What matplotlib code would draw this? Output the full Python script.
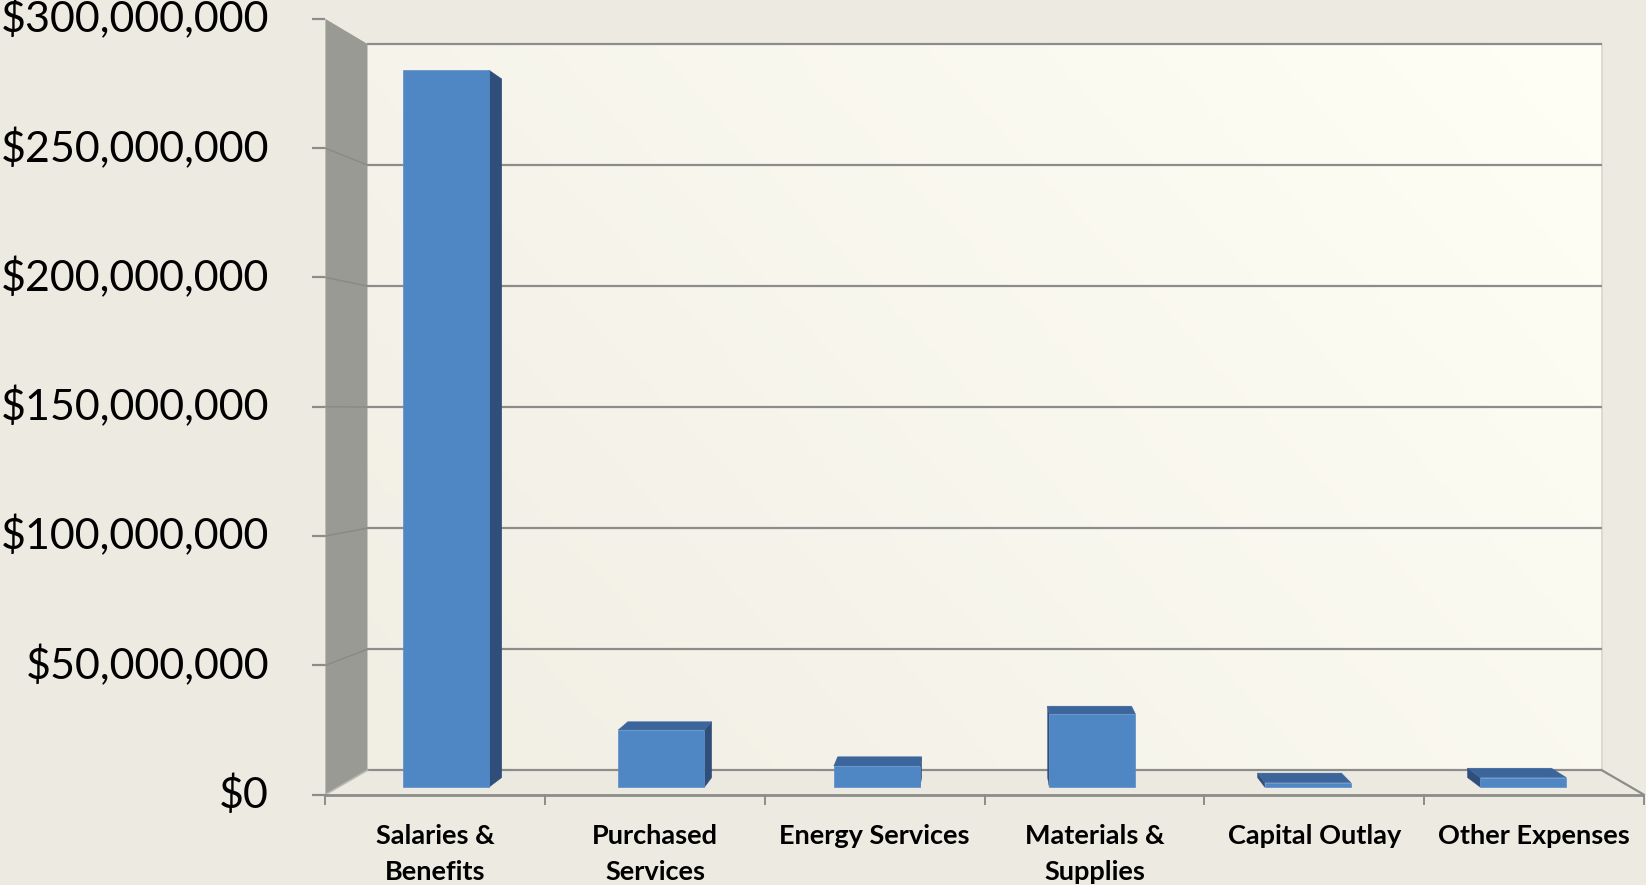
import matplotlib
matplotlib.use("Agg")
import matplotlib.pyplot as plt
from matplotlib.patches import Polygon
from matplotlib.colors import LinearSegmentedColormap
import numpy as np

# ---------------- data ----------------
categories = ["Salaries &\nBenefits", "Purchased\nServices", "Energy Services",
              "Materials &\nSupplies", "Capital Outlay", "Other Expenses"]
values = [282.8e6, 22.6e6, 8.4e6, 28.9e6, 1.8e6, 3.8e6]
y_ticks = [0, 50e6, 100e6, 150e6, 200e6, 250e6, 300e6]
y_tick_labels = ["$0", "$50,000,000", "$100,000,000", "$150,000,000",
                 "$200,000,000", "$250,000,000", "$300,000,000"]

# ---------------- style / geometry ----------------
BG = "#EDEBE1"
GRID = "#8C8C8A"
FRONT = "#4F86C4"
SIDE = "#2F4E7A"
TOP = "#3B659B"
WALL = "#9A9A94"

n = len(categories)
ymax = y_ticks[-1]
VPX, VPY = n / 2.0, 148e6      # vanishing point (front-plane data coords)
T_WALL = 0.0638                # depth fraction of back wall
T1, T2 = 0.0192, 0.0446        # bar front/back depth fractions
BAR_W = 0.40


def proj(x, v, t):
    return (x + (VPX - x) * t, v + (VPY - v) * t)


fig = plt.figure(figsize=(16.46, 8.85), dpi=100)
fig.patch.set_facecolor(BG)
ax = fig.add_axes([0, 0, 1, 1])
ax.set_facecolor(BG)
ax.axis("off")

# back wall with gradient
bw = [proj(0, 0, T_WALL), proj(n, 0, T_WALL), proj(n, ymax, T_WALL), proj(0, ymax, T_WALL)]
wall_patch = Polygon(bw, closed=True, facecolor="none", edgecolor="none", zorder=1)
ax.add_patch(wall_patch)
g = np.linspace(0, 1, 256)
GX, GY = np.meshgrid(g, g)
G = 0.65 * GX + 0.35 * GY
cmap = LinearSegmentedColormap.from_list("wallgrad", ["#F1EEE4", "#FFFFF6"])
im = ax.imshow(G, extent=[bw[0][0], bw[1][0], bw[0][1], bw[2][1]], origin="lower",
               cmap=cmap, aspect="auto", zorder=1, interpolation="bilinear")
im.set_clip_path(wall_patch)
# right edge of back wall
ax.plot([bw[1][0], bw[2][0]], [bw[1][1], bw[2][1]], color="#D8D6CE", lw=1.2, zorder=2)

# floor
fl = [proj(0, 0, 0), proj(n, 0, 0), proj(n, 0, T_WALL), proj(0, 0, T_WALL)]
ax.add_patch(Polygon(fl, closed=True, facecolor="#ECEAE0", edgecolor="none", zorder=1.5))

# back-wall gridlines
for v in y_ticks:
    a, b = proj(0, v, T_WALL), proj(n, v, T_WALL)
    ax.plot([a[0], b[0]], [a[1], b[1]], color=GRID, lw=1.6, zorder=2, solid_capstyle="butt")

# left side wall
lw_ = [proj(0, 0, 0), proj(0, 0, T_WALL), proj(0, ymax, T_WALL), proj(0, ymax, 0)]
ax.add_patch(Polygon(lw_, closed=True, facecolor=WALL, edgecolor="none", zorder=3))
for v in y_ticks[1:-1]:
    a, b = proj(0, v, 0), proj(0, v, T_WALL)
    ax.plot([a[0], b[0]], [a[1], b[1]], color="#8A8A85", lw=1.0, zorder=3.1)
a, b = proj(0, 0, 0), proj(0, 0, T_WALL)
ax.plot([a[0], b[0]], [a[1], b[1]], color="#B9B8B1", lw=1.2, zorder=3.1)

# floor front & right edges
a, b = proj(0, 0, 0), proj(n, 0, 0)
ax.plot([a[0], b[0]], [a[1], b[1]], color=GRID, lw=2.0, zorder=3.2, solid_capstyle="butt")
a, b = proj(n, 0, 0), proj(n, 0, T_WALL)
ax.plot([a[0], b[0]], [a[1], b[1]], color=GRID, lw=1.6, zorder=3.2)

# y ticks on the front plane + labels
tick_len = 0.06
for v, lab in zip(y_ticks, y_tick_labels):
    ax.plot([-tick_len, 0], [v, v], color=GRID, lw=1.6, zorder=3.2, solid_capstyle="butt")
    ax.text(-0.2567, v, lab, ha="right", va="center", fontsize=31,
            family=["Lato", "DejaVu Sans"], color="black", zorder=5)

# x ticks (slot boundaries) + category labels
for i in range(n + 1):
    ax.plot([i, i], [0, -3.5e6], color=GRID, lw=1.4, zorder=3.2)
for i, lab in enumerate(categories):
    ax.text(i + 0.5, -11.3e6, lab, ha="center", va="top", fontsize=19.5,
            fontweight="bold", family=["Lato", "DejaVu Sans"], linespacing=1.6,
            color="black", zorder=5)

# bars (pseudo-3D boxes)
for i, v in enumerate(values):
    xl, xr = i + 0.5 - BAR_W / 2, i + 0.5 + BAR_W / 2
    if xr < VPX:
        side = [proj(xr, 0, T1), proj(xr, 0, T2), proj(xr, v, T2), proj(xr, v, T1)]
        ax.add_patch(Polygon(side, closed=True, facecolor=SIDE, edgecolor=SIDE, lw=0.3, zorder=4))
    elif xl > VPX:
        side = [proj(xl, 0, T1), proj(xl, 0, T2), proj(xl, v, T2), proj(xl, v, T1)]
        ax.add_patch(Polygon(side, closed=True, facecolor=SIDE, edgecolor=SIDE, lw=0.3, zorder=4))
    if v < VPY:
        top = [proj(xl, v, T1), proj(xr, v, T1), proj(xr, v, T2), proj(xl, v, T2)]
        ax.add_patch(Polygon(top, closed=True, facecolor=TOP, edgecolor=TOP, lw=0.3, zorder=4.1))
    front = [proj(xl, 0, T1), proj(xr, 0, T1), proj(xr, v, T1), proj(xl, v, T1)]
    ax.add_patch(Polygon(front, closed=True, facecolor=FRONT, edgecolor="#5A8DC8", lw=0.5, zorder=4.2))

# axis limits mapping the front plane onto the canvas
ax.set_xlim(-1.481, 6.010)
ax.set_ylim(-34.96e6, 307.31e6)

fig.savefig("out.png", dpi=100, facecolor=BG)
